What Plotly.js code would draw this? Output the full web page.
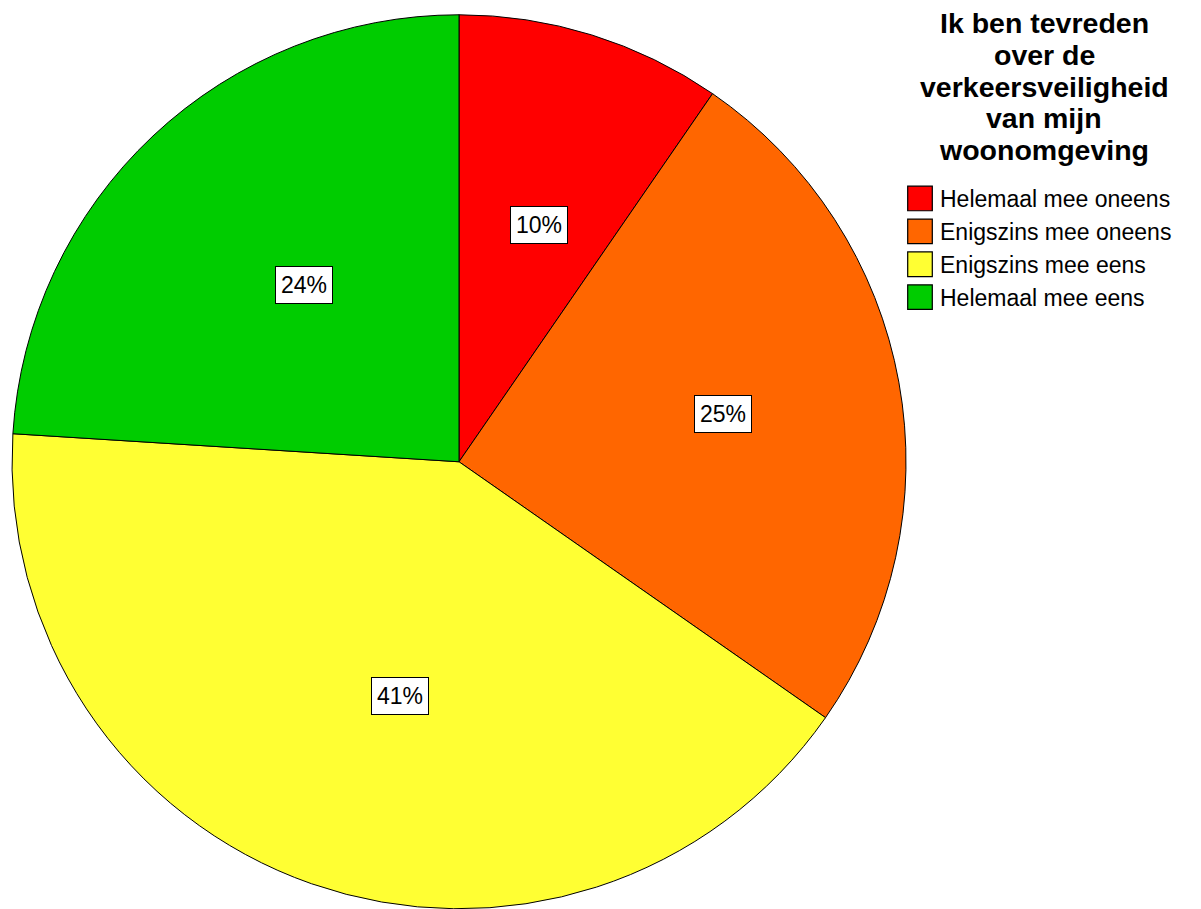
<!DOCTYPE html>
<html>
<head>
<meta charset="utf-8">
<script src="https://cdn.plot.ly/plotly-3.0.1.min.js"></script>
<style>html,body{margin:0;padding:0;background:#fff}#chart{width:1201px;height:909px}</style>
</head>
<body>
<div id="chart"></div>
<script>
const categories = ["Helemaal mee oneens", "Enigszins mee oneens", "Enigszins mee eens", "Helemaal mee eens"];
const values = [9.6, 25.1, 41.3, 24.0];
const colors = ["#FF0000", "#FF6600", "#FFFF33", "#00CC00"];
const titleLines = ["Ik ben tevreden", "over de", "verkeersveiligheid", "van mijn", "woonomgeving"];

const W = 1201, H = 909;
const FONT = "Arial, Liberation Sans, sans-serif";
const dom = {x: [12 / W, 906 / W], y: [0, 0.984]};

// label positions derived from the data (mid-angle of each slice)
const total = values.reduce((a, b) => a + b, 0);
const cxPx = (dom.x[0] + dom.x[1]) / 2 * W;
const cyPx = H - (dom.y[0] + dom.y[1]) / 2 * H;
const R = Math.min((dom.x[1] - dom.x[0]) * W, (dom.y[1] - dom.y[0]) * H) / 2;
const labelFrac = 0.6;
let cum = 0;
const annotations = values.map((v) => {
  const mid = (cum + v / 2) / total * 2 * Math.PI;
  cum += v;
  const px = cxPx + Math.sin(mid) * R * labelFrac;
  const py = cyPx - Math.cos(mid) * R * labelFrac;
  return {
    xref: "paper", yref: "paper",
    x: px / W, y: 1 - py / H,
    text: Math.round(v / total * 100) + "%",
    showarrow: false,
    font: {family: FONT, size: 23, color: "#000"},
    bgcolor: "#FFFFFF", bordercolor: "#000000", borderwidth: 1, borderpad: 5
  };
});

// legend title, one line per annotation (tight line spacing)
titleLines.forEach((t, i) => {
  annotations.push({
    xref: "paper", yref: "paper",
    x: 1044 / W, y: 1 - (23 + i * 31.8) / H,
    xanchor: "center", yanchor: "middle",
    text: "<b>" + t + "</b>", showarrow: false,
    font: {family: FONT, size: 28.5, color: "#000"}
  });
});

const trace = {
  type: "pie",
  labels: categories,
  values: values,
  sort: false,
  direction: "clockwise",
  rotation: 0,
  textinfo: "none",
  hoverinfo: "label+percent",
  marker: {colors: colors, line: {color: "#000000", width: 1}},
  domain: dom
};

const layout = {
  width: W, height: H,
  margin: {l: 0, r: 0, t: 0, b: 0},
  paper_bgcolor: "#FFFFFF",
  showlegend: true,
  legend: {
    x: 900 / W, y: 1 - 177 / H, xanchor: "left", yanchor: "top",
    font: {family: FONT, size: 23, color: "#000"},
    itemwidth: 30, tracegroupgap: 0
  },
  annotations: annotations
};

Plotly.newPlot("chart", [trace], layout, {staticPlot: true}).then(() => {
  document.querySelectorAll("#chart .legendpoints path").forEach((p) => {
    const t = p.getAttribute("transform") || "";
    p.setAttribute("transform", t + " scale(2.05)");
    p.style.strokeWidth = "0.6px";
  });
});
</script>
</body>
</html>
